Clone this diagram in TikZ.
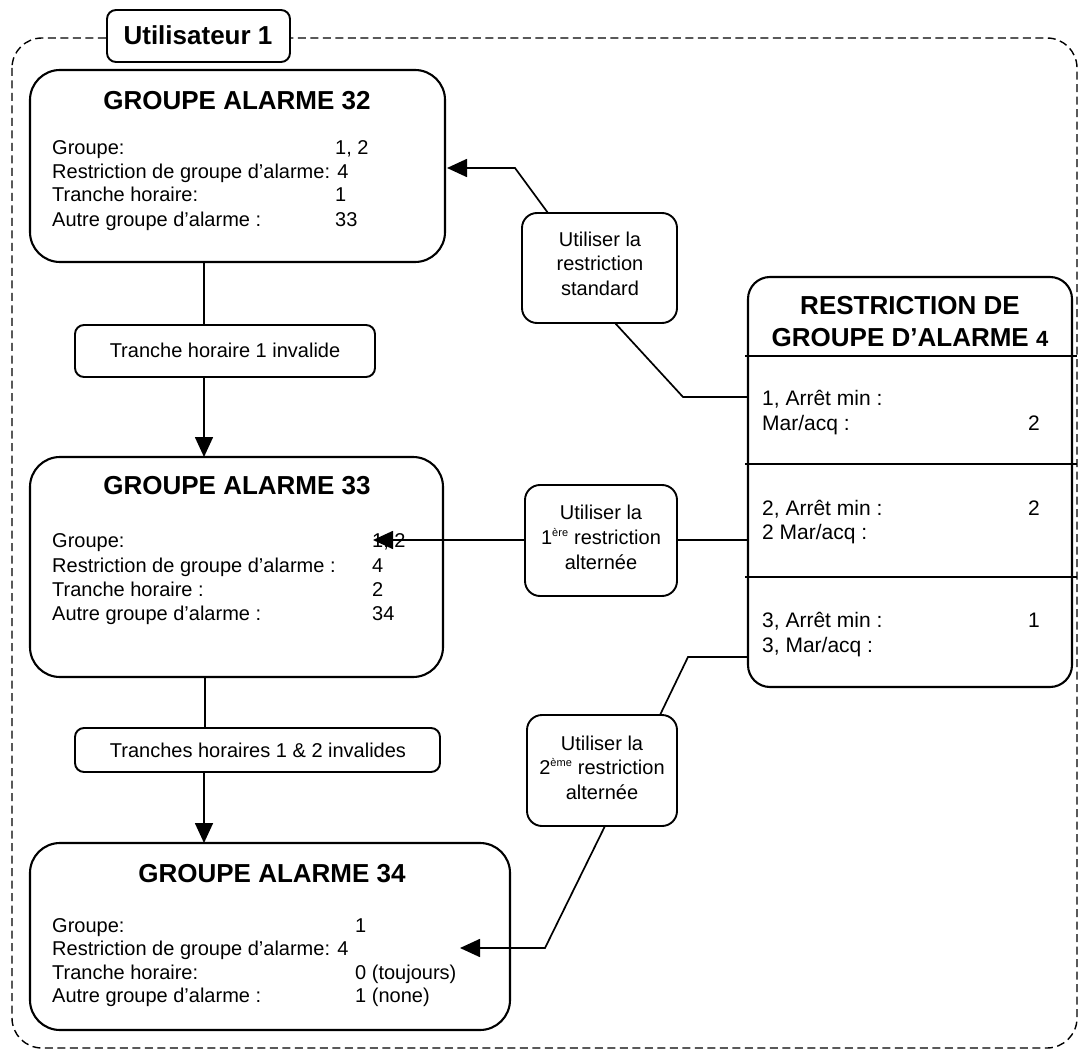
\documentclass[tikz,border=0pt]{standalone}
\usepackage{fontspec}
\setmainfont{Liberation Sans}
\usetikzlibrary{arrows.meta,calc}
\begin{document}
\begin{tikzpicture}[x=1pt,y=-1pt,
  bigbox/.style={draw, line width=2.1pt, rounded corners=30pt, inner sep=0pt, outer sep=0pt, anchor=north west, fill=white},
  smallbox/.style={draw, line width=1.9pt, rounded corners=15pt, inner sep=0pt, outer sep=0pt, anchor=north west, fill=white},
  flatbox/.style={draw, line width=1.9pt, rounded corners=9pt, inner sep=0pt, outer sep=0pt, anchor=north west, fill=white},
  frame/.style={draw, line width=1.4pt, dash pattern=on 8pt off 4.5pt, rounded corners=30pt},
  conn/.style={line width=1.7pt},
  arr/.style={line width=1.7pt, -{Triangle[length=20pt,width=18pt]}},
  txt/.style={font=\fontsize{20}{24}\selectfont, anchor=base west, inner sep=0pt},
  ctxt/.style={font=\fontsize{20}{24}\selectfont, anchor=base, inner sep=0pt},
  rtxt/.style={font=\fontsize{21}{25}\selectfont, anchor=base west, inner sep=0pt},
  title/.style={font=\fontsize{26}{30}\selectfont\bfseries, anchor=base, inner sep=0pt}
]
\useasboundingbox (0,0) rectangle (1089,1056);
% outer dashed frame
\draw[frame] (12,38) rectangle (1077,1048);
% user label
\node[flatbox, minimum width=183pt, minimum height=52pt] (user) at (107,10) {};
\node[title] (usert) at (198,45) {Utilisateur 1};

% GA 32
\node[bigbox, minimum width=415pt, minimum height=192pt] (ga32) at (30,70) {};
\node[title] (ga32t) at (237,110) {GROUPE ALARME 32};
\node[txt] (a1) at (52,155) {Groupe:};
\node[txt] (a1v) at (335,155) {1, 2};
\node[txt] (a2) at (52,179) {Restriction de groupe d’alarme: 4};
\node[txt] (a3) at (52,202) {Tranche horaire:};
\node[txt] (a3v) at (335,202) {1};
\node[txt] (a4) at (52,227) {Autre groupe d’alarme :};
\node[txt] (a4v) at (335,227) {33};

% Tranche 1 invalide
\node[flatbox, minimum width=300pt, minimum height=52pt] (t1) at (75,325) {};
\node[ctxt] (t1t) at (225,357) {Tranche horaire 1 invalide};

% GA 33
\node[bigbox, minimum width=413pt, minimum height=220pt] (ga33) at (30,457) {};
\node[title] (ga33t) at (237,494) {GROUPE ALARME 33};
\node[txt] (b1) at (52,547) {Groupe:};
\node[txt] (b1v) at (372,547) {1, 2};
\node[txt] (b2) at (52,572) {Restriction de groupe d’alarme :};
\node[txt] (b2v) at (372,572) {4};
\node[txt] (b3) at (52,596) {Tranche horaire :};
\node[txt] (b3v) at (372,596) {2};
\node[txt] (b4) at (52,620) {Autre groupe d’alarme :};
\node[txt] (b4v) at (372,620) {34};

% Tranches 1 & 2
\node[flatbox, minimum width=365pt, minimum height=44pt] (t2) at (75,728) {};
\node[ctxt] (t2t) at (258,757) {Tranches horaires 1 \& 2 invalides};

% GA 34
\node[bigbox, minimum width=480pt, minimum height=187pt] (ga34) at (30,843) {};
\node[title] (ga34t) at (272,882) {GROUPE ALARME 34};
\node[txt] (c1) at (52,932) {Groupe:};
\node[txt] (c1v) at (355,932) {1};
\node[txt] (c2) at (52,955) {Restriction de groupe d’alarme: 4};
\node[txt] (c3) at (52,979) {Tranche horaire:};
\node[txt] (c3v) at (355,979) {0 (toujours)};
\node[txt] (c4) at (52,1002) {Autre groupe d’alarme :};
\node[txt] (c4v) at (355,1002) {1 (none)};

% Restriction box
\node[bigbox, rounded corners=22pt, minimum width=324pt, minimum height=410pt] (rg) at (748,277) {};
\node[title] (rgt1) at (910,315) {RESTRICTION DE};
\node[title] (rgt2) at (910,346) {GROUPE D’ALARME {\fontsize{22}{26}\selectfont 4}};
\draw[line width=1.9pt] ($(rg.north west)+(-3,79)$) -- ($(rg.north east)+(5,79)$);
\draw[line width=1.9pt] ($(rg.north west)+(-3,187)$) -- ($(rg.north east)+(5,187)$);
\draw[line width=1.9pt] ($(rg.north west)+(-3,300)$) -- ($(rg.north east)+(5,300)$);
\node[rtxt] (r1) at (762,405) {1, Arrêt min :};
\node[rtxt] (r2) at (762,430) {Mar/acq :};
\node[rtxt] (r2v) at (1028,430) {2};
\node[rtxt] (r3) at (762,515) {2, Arrêt min :};
\node[rtxt] (r3v) at (1028,515) {2};
\node[rtxt] (r4) at (762,539) {2 Mar/acq :};
\node[rtxt] (r5) at (762,627) {3, Arrêt min :};
\node[rtxt] (r5v) at (1028,627) {1};
\node[rtxt] (r6) at (762,652) {3, Mar/acq :};

% use boxes
\node[smallbox, minimum width=155pt, minimum height=110pt] (std) at (522,213) {};
\node[ctxt] (stdt1) at (600,247) {Utiliser la};
\node[ctxt] (stdt2) at (600,271) {restriction};
\node[ctxt] (stdt3) at (600,296) {standard};

\node[smallbox, minimum width=152pt, minimum height=111pt] (alt1) at (525,485) {};
\node[ctxt] (alt1t1) at (601,519) {Utiliser la};
\node[ctxt] (alt1t2) at (601,544) {1\textsuperscript{\fontsize{11}{12}\selectfont ère} restriction};
\node[ctxt] (alt1t3) at (601,569) {alternée};

\node[smallbox, minimum width=150pt, minimum height=111pt] (alt2) at (527,715) {};
\node[ctxt] (alt2t1) at (602,750) {Utiliser la};
\node[ctxt] (alt2t2) at (602,774) {2\textsuperscript{\fontsize{11}{12}\selectfont ème} restriction};
\node[ctxt] (alt2t3) at (602,799) {alternée};

% connectors
\coordinate (k1) at (515,168);
\coordinate (k2) at (683,397);
\coordinate (k3) at (688,657);
\coordinate (k4) at (545,948);
\coordinate (tip33) at (373,540);

\draw[conn] ($(ga32.south west)+(174,0)$) -- ($(t1.north west)+(129,0)$);
\draw[arr] ($(t1.south west)+(129,0)$) -- ($(ga33.north west)+(174,0)$);
\draw[conn] ($(ga33.south west)+(175,0)$) -- ($(t2.north west)+(130,0)$);
\draw[arr] ($(t2.south west)+(129,0)$) -- ($(ga34.north west)+(174,0)$);

\draw[arr] ($(std.north west)+(26,0)$) -- (k1) -- ($(ga32.north east)+(2,98)$);
\draw[conn] ($(rg.north west)+(0,120)$) -- (k2) -- ($(std.south west)+(93,0)$);
\draw[conn] ($(rg.north west)+(0,263)$) -- ($(alt1.north east)+(0,55)$);
\draw[arr] ($(alt1.north west)+(0,55)$) -- (tip33);
\draw[conn] ($(rg.north west)+(0,380)$) -- (k3) -- ($(alt2.north west)+(133,0)$);
\draw[arr] ($(alt2.south west)+(78,0)$) -- (k4) -- ($(ga34.north east)+(-50,105)$);
\end{tikzpicture}
\end{document}
